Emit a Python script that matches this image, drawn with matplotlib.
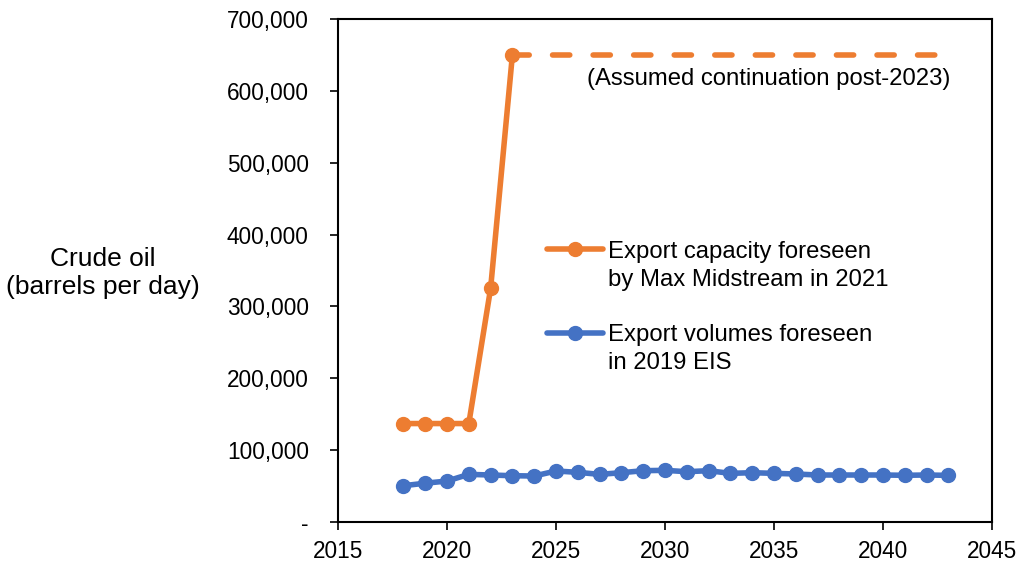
import matplotlib
matplotlib.use("Agg")
import matplotlib.pyplot as plt
from matplotlib.lines import Line2D
from matplotlib.ticker import FuncFormatter, MultipleLocator

plt.rcParams['font.family'] = ['Liberation Sans', 'DejaVu Sans']

years_cap = [2018, 2019, 2020, 2021, 2022, 2023]
capacity = [137000, 137000, 137000, 137000, 325000, 650000]
years_cont = [2023, 2043]
cont = [650000, 650000]

years_vol = list(range(2018, 2044))
volumes = [50500, 54000, 57000, 66300, 65400, 64400, 64000, 71000, 69100, 66300,
           68600, 71400, 71900, 70000, 71400, 67700, 68600, 67700, 66800, 65400,
           65400, 65400, 65400, 65000, 65400, 64900]

orange = '#ED7D31'
blue = '#4472C4'
FS = 16.3
FT = 17.2
FY = 19.0

fig = plt.figure(figsize=(10.21, 5.63), dpi=100)
ax = fig.add_axes([338/1021, 1-522/563, (992-338)/1021, (522-19)/563])

ax.plot(years_cont, cont, color=orange, lw=4, ls=(0, (3.1, 4.2)), dash_capstyle='round')
h1, = ax.plot(years_cap, capacity, color=orange, lw=4, marker='o', ms=10, solid_capstyle='round')
h2, = ax.plot(years_vol, volumes, color=blue, lw=4, marker='o', ms=10, solid_capstyle='round')

ax.set_xlim(2015, 2045)
ax.set_ylim(0, 700000)
ax.xaxis.set_major_locator(MultipleLocator(5))
ax.yaxis.set_major_locator(MultipleLocator(100000))
ax.yaxis.set_major_formatter(FuncFormatter(lambda v, p: '-' if v == 0 else f'{int(v):,}'))
ax.tick_params(labelsize=FS, length=6, width=1.2, direction='out', color='black')
ax.tick_params(axis='y', pad=15)
ax.tick_params(axis='x', pad=7)
for s in ax.spines.values():
    s.set_linewidth(1.5)
    s.set_color('black')

ax.text(2043.1, 617000, '(Assumed continuation post-2023)', ha='right', va='center', fontsize=FT)

fig.text(103/1021, 1-273/563, 'Crude oil\n(barrels per day)', ha='center', va='center',
         fontsize=FY, linespacing=1.25)

blank = Line2D([], [], color='none')
handles = [h1, blank, blank, h2, blank]
labels = ['Export capacity foreseen', 'by Max Midstream in 2021', ' ',
          'Export volumes foreseen', 'in 2019 EIS']
leg = ax.legend(handles, labels, loc='upper left', bbox_to_anchor=(0.32, 0.559), frameon=False,
                fontsize=FT, handlelength=2.35, handletextpad=0.2, labelspacing=0.245,
                borderaxespad=0, borderpad=0)

fig.savefig('out.png', dpi=100)
